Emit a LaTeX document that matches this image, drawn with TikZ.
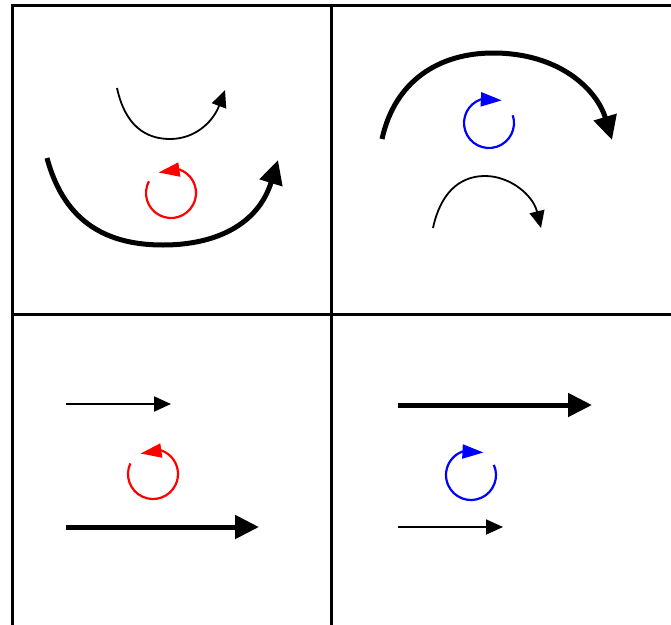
\documentclass[tikz,border=0pt]{standalone}
\usetikzlibrary{arrows.meta}
\tikzset{bd/.style={line width=3pt,line cap=rect},
 sl/.style={line width=1.8pt,-{Triangle[length=17pt,width=15pt]}},
 hv/.style={line width=5pt,-{Triangle[length=24pt,width=23pt]}},
 cr/.style={draw=red,line width=2.2pt,-{Triangle[length=21pt,width=14pt]}},
 cb/.style={draw=blue,line width=2.2pt,-{Triangle[length=21pt,width=14pt]}}}
\begin{document}
\begin{tikzpicture}[x=1pt,y=-1pt]
\useasboundingbox (0,0) rectangle (671,624);
\draw[bd] (12.5,5.5)--(690,5.5);\draw[bd] (12.5,5.5)--(12.5,640);
\draw[bd] (331.5,5.5)--(331.5,640);\draw[bd] (12.5,314.5)--(690,314.5);
% top left
\draw[sl] (117,88) .. controls (125,125) and (145,139) .. (170,139) .. controls (195,139) and (213,122) .. (225,90);
\draw[hv] (47,158) .. controls (65,225) and (110,245) .. (163,245) .. controls (215,245) and (258,225) .. (278,160);
\draw[cr] (171,193) ++(-152:25) arc[start angle=-152,end angle=-430,radius=25] -- ++(-21,3);
% top right
\draw[hv] (382,139) .. controls (395,80) and (440,53) .. (493,53) .. controls (560,53) and (597,90) .. (612,140);
\draw[sl] (433,228) .. controls (440,195) and (458,176) .. (485,176) .. controls (510,176) and (533,195) .. (541,228);
\draw[cb] (489,123) ++(-18:25) arc[start angle=-18,end angle=251,radius=25] -- ++(21,1);
% bottom left
\draw[sl] (66,404)--(171,404);
\draw[cr] (153,474) ++(-155:25) arc[start angle=-155,end angle=-430,radius=25] -- ++(-21,3);
\draw[hv] (66,527)--(259,527);
% bottom right
\draw[hv] (398,405)--(592,405);
\draw[cb] (471,475) ++(-24:25) arc[start angle=-24,end angle=250,radius=25] -- ++(21,1);
\draw[sl] (398,527)--(503,527);
\end{tikzpicture}
\end{document}
